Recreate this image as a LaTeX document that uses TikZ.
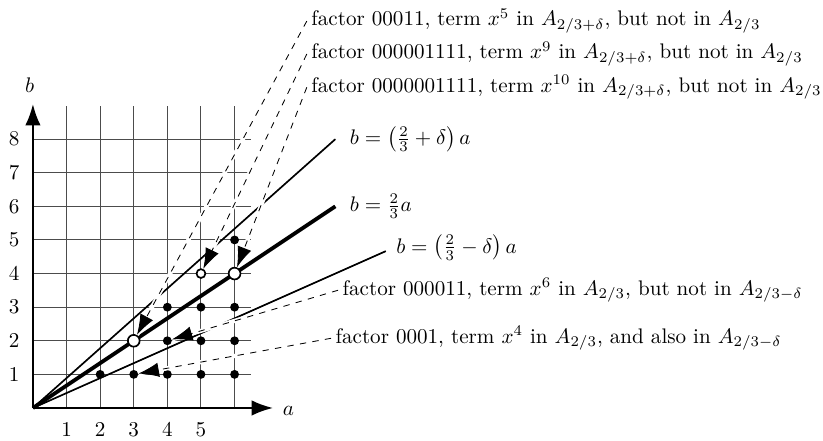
\documentclass[tikz,border=0pt]{standalone}
\usepackage{amsmath}
\usetikzlibrary{arrows.meta,positioning,calc}

\begin{document}
\begin{tikzpicture}[
  x=.56cm, y=.56cm,
  gridline/.style={draw=black!70, line width=.5pt},
  axis/.style={-{Latex[length=3.6mm,width=2.6mm]}, line width=1.2pt},
  ray/.style={line width=.8pt},
  dot/.style={circle, fill=black, inner sep=0pt, minimum size=4.2pt},
  hole/.style={circle, draw=black, line width=.8pt, fill=white, inner sep=0pt, minimum size=5.6pt},
  note/.style={anchor=base west, inner sep=2pt},
  pointer/.style={dashed, -{Latex[length=3.4mm,width=2.4mm]},
    preaction={draw=white, solid, line width=2pt, -}}
]
\useasboundingbox (-.98,-.98) rectangle (23.51,12.14);

% grid
\foreach \i in {1,...,6}
  \draw[gridline] (\i,0) -- (\i,9);
\foreach \j in {1,...,8}
  \draw[gridline] (0,\j) -- (6.5,\j);
\foreach \i in {1,...,5}
  \node[anchor=base] (ta\i) at (\i,-.85) {\i};
\foreach \j in {1,...,8}
  \node (tb\j) at (-.56,\j) {\j};

% axes
\coordinate (o) at (0,0);
\coordinate (aend) at (7.15,0);
\coordinate (bend) at (0,9.05);
\draw[axis] (o) -- (aend);
\draw[axis] (o) -- (bend);
\node (alab) at (7.6,-.1) {$a$};
\node (blab) at (-.1,9.6) {$b$};

% rays
\coordinate (eplus) at (9,8);
\coordinate (emid) at (9,6);
\coordinate (eminus) at (10.5,4.667);
\draw[ray] (o) -- (eplus);
\draw[line width=1.8pt] (o) -- (emid);
\draw[ray] (o) -- (eminus);
\node[anchor=west, inner sep=0pt] (lplus) at ($(eplus)+(.42,0)$)
  {$b=\left(\frac{2}{3}+\delta\right)a$};
\node[anchor=west, inner sep=0pt] (lmid) at ($(emid)+(.42,0)$)
  {$b=\frac{2}{3}a$};
\node[anchor=west, inner sep=0pt] (lminus) at ($(eminus)+(.3,.1)$)
  {$b=\left(\frac{2}{3}-\delta\right)a$};

% lattice points
\foreach \p/\q in {2/1,3/1,4/1,5/1,6/1,4/2,5/2,6/2,4/3,5/3,6/3,6/5}
  \node[dot] (d\p\q) at (\p,\q) {};
\node[hole] (h32) at (3,2) {};
\node[hole] (h64) at (6,4) {};
\node[hole, minimum size=4.2pt] (h54) at (5,4) {};

% labels
\node[note] (fA) at (8.15,11.37)
  {factor 00011, term $x^5$ in $A_{2/3+\delta}$, but not in $A_{2/3}$};
\node[note] (fB) at (8.15,10.39)
  {factor 000001111, term $x^9$ in $A_{2/3+\delta}$, but not in $A_{2/3}$};
\node[note] (fC) at (8.15,9.40)
  {factor 0000001111, term $x^{10}$ in $A_{2/3+\delta}$, but not in $A_{2/3}$};
\node[note] (fD) at (9.08,3.36)
  {factor 000011, term $x^6$ in $A_{2/3}$, but not in $A_{2/3-\delta}$};
\node[note] (fE) at (8.87,1.93)
  {factor 0001, term $x^4$ in $A_{2/3}$, and also in $A_{2/3-\delta}$};

\draw[pointer] (fA.west) -- (h32);
\draw[pointer] (fB.west) -- (h54);
\draw[pointer] (fC.west) -- (h64);
\draw[pointer] (fD.west) -- (d42);
\draw[pointer] (fE.west) -- (d31);
\end{tikzpicture}
\end{document}
